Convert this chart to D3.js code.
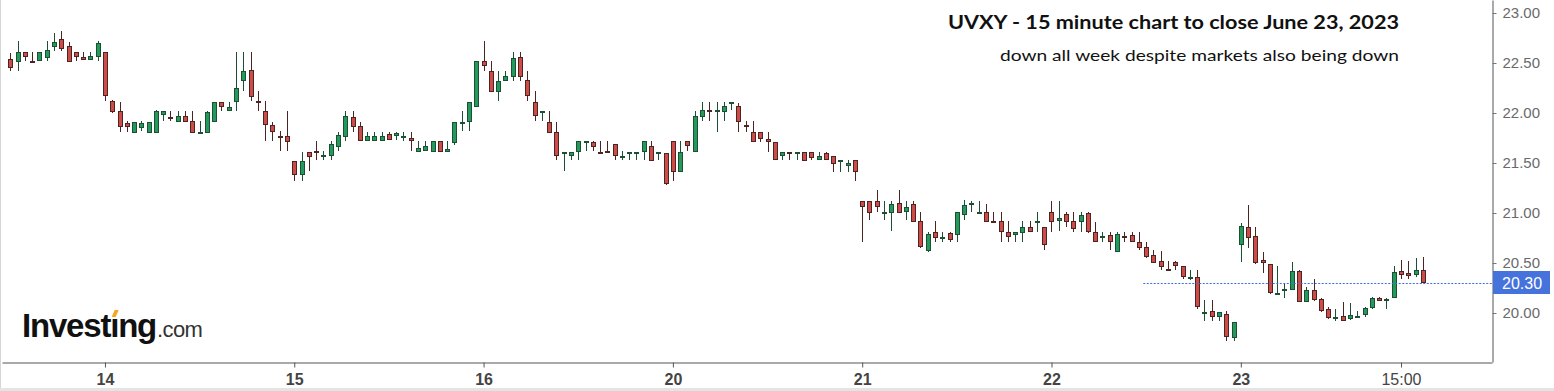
<!DOCTYPE html>
<html lang="en">
<head>
<meta charset="utf-8">
<title>UVXY 15 minute chart</title>
<script src="https://cdn.jsdelivr.net/npm/d3@7"></script>
<style>
  body { margin: 0; background: #fff; overflow: hidden; }
  .axis text { font-family: "Liberation Sans", Arial, sans-serif; }
</style>
</head>
<body>
<script>
// 15 minute bars, June 13 (afternoon) to June 23 close
var open = [
  22.54,22.51,22.61,22.52,22.52,22.55,22.66,22.74,22.67,22.61,22.56,22.53,22.56,
  22.61,22.12,22.02,21.90,21.80,21.85,21.80,21.80,21.98,21.96,21.91,21.97,21.92,21.80,21.80,21.91,22.11,22.02,22.11,22.32,22.43,22.12,22.02,21.88,21.77,21.77,
  21.52,21.38,21.61,21.62,21.57,21.57,21.66,21.76,21.96,21.87,21.72,21.72,21.72,21.79,21.77,21.76,21.75,21.61,21.62,21.61,21.72,21.61,21.70,21.90,21.91,22.06,
  22.52,22.42,22.21,22.32,22.36,22.56,22.33,22.11,22.00,21.91,21.81,21.60,21.57,21.61,21.70,21.71,21.61,21.62,21.69,21.56,21.60,21.60,21.61,21.67,21.60,21.60,
  21.72,21.41,21.72,21.61,21.96,22.03,22.02,22.01,22.10,22.07,21.88,21.81,21.81,21.74,21.71,21.57,21.605,21.60,21.61,21.61,21.53,21.60,21.57,21.51,21.47,21.53,
  21.12,21.12,21.12,21.01,21.00,21.10,21.01,21.09,20.92,20.62,20.81,20.76,20.80,20.78,20.98,21.09,21.01,21.01,20.92,20.92,20.81,20.78,20.80,20.86,20.92,20.86,
  21.01,20.92,20.99,20.92,20.91,21.00,20.81,20.76,20.78,20.61,20.77,20.78,20.71,20.66,20.58,20.52,20.44,20.51,20.47,20.355,20.36,20.01,20.02,19.96,19.99,19.75,
  20.68,20.86,20.77,20.53,20.49,20.19,20.235,20.23,20.42,20.11,20.23,20.14,20.04,19.96,19.97,19.94,19.965,19.98,20.05,20.15,20.13,20.15,20.42,20.40,20.38,20.43
];
var high = [
  22.60,22.72,22.61,22.61,22.61,22.72,22.80,22.82,22.71,22.61,22.61,22.61,22.72,
  22.61,22.13,22.11,21.92,21.91,21.92,21.91,22.03,22.02,22.02,22.02,22.02,22.02,21.92,22.02,22.11,22.11,22.11,22.61,22.61,22.61,22.22,22.12,21.91,21.82,22.02,
  21.52,21.61,21.61,21.72,21.62,21.72,21.81,22.02,22.02,21.91,21.81,21.81,21.81,21.81,21.81,21.81,21.81,21.72,21.72,21.72,21.72,21.72,21.91,22.02,22.11,22.52,
  22.72,22.52,22.42,22.42,22.61,22.61,22.42,22.22,22.02,22.02,21.91,21.61,21.61,21.72,21.72,21.72,21.72,21.72,21.69,21.62,21.61,21.61,21.72,21.72,21.61,21.60,
  21.72,21.72,21.72,22.02,22.11,22.11,22.11,22.11,22.11,22.10,21.92,21.92,21.81,21.81,21.71,21.61,21.61,21.61,21.61,21.61,21.61,21.61,21.57,21.53,21.53,21.53,
  21.12,21.12,21.23,21.12,21.12,21.23,21.12,21.12,21.01,20.81,20.92,20.81,20.81,21.01,21.13,21.12,21.12,21.09,21.01,21.01,20.92,20.81,20.92,20.92,21.01,20.86,
  21.12,21.12,21.01,21.01,21.01,21.01,20.91,20.81,20.81,20.81,20.81,20.81,20.81,20.71,20.63,20.62,20.52,20.52,20.47,20.43,20.43,20.13,20.13,20.01,20.02,19.91,
  20.90,21.08,20.86,20.61,20.49,20.47,20.30,20.51,20.43,20.26,20.34,20.15,20.06,20.04,20.11,20.10,20.02,20.06,20.16,20.16,20.15,20.47,20.53,20.52,20.55,20.56
];
var low = [
  22.42,22.42,22.52,22.51,22.52,22.52,22.62,22.62,22.51,22.52,22.53,22.53,22.52,
  22.12,22.00,21.81,21.81,21.80,21.82,21.80,21.80,21.92,21.92,21.91,21.91,21.80,21.80,21.80,21.91,22.02,22.02,22.02,22.22,22.12,22.02,21.72,21.72,21.62,21.62,
  21.32,21.32,21.42,21.53,21.53,21.53,21.62,21.72,21.81,21.72,21.72,21.72,21.72,21.73,21.73,21.72,21.62,21.61,21.62,21.61,21.61,21.61,21.68,21.82,21.82,22.06,
  22.42,22.21,22.12,22.32,22.32,22.32,22.12,21.92,21.92,21.80,21.53,21.42,21.53,21.53,21.62,21.62,21.60,21.61,21.53,21.53,21.53,21.53,21.53,21.52,21.53,21.28,
  21.32,21.41,21.62,21.61,21.92,21.92,21.81,21.92,22.03,21.81,21.81,21.71,21.71,21.61,21.53,21.53,21.53,21.53,21.52,21.53,21.53,21.53,21.41,21.41,21.41,21.32,
  20.71,20.93,21.01,20.93,20.82,21.00,20.93,20.91,20.65,20.61,20.71,20.71,20.71,20.71,20.93,21.01,21.01,20.91,20.91,20.71,20.71,20.71,20.71,20.81,20.81,20.63,
  20.81,20.82,20.86,20.81,20.81,20.80,20.71,20.71,20.63,20.61,20.71,20.71,20.63,20.55,20.50,20.43,20.43,20.43,20.34,20.33,20.04,19.92,19.92,19.92,19.72,19.72,
  20.51,20.65,20.49,20.40,20.19,20.19,20.15,20.23,20.11,20.11,20.12,20.01,19.94,19.92,19.92,19.93,19.95,19.96,20.04,20.12,20.04,20.15,20.34,20.34,20.36,20.30
];
var close = [
  22.45,22.61,22.56,22.51,22.61,22.63,22.71,22.64,22.51,22.56,22.53,22.57,22.70,
  22.17,22.01,21.86,21.86,21.91,21.90,21.91,22.02,22.02,21.95,21.97,21.91,21.80,21.81,22.01,22.11,22.06,22.06,22.25,22.42,22.16,22.11,21.88,21.81,21.76,21.71,
  21.38,21.52,21.56,21.61,21.58,21.69,21.78,21.97,21.86,21.72,21.77,21.77,21.77,21.73,21.80,21.77,21.72,21.65,21.67,21.72,21.61,21.64,21.91,21.91,22.11,22.52,
  22.47,22.21,22.32,22.37,22.55,22.36,22.17,21.97,22.02,21.80,21.57,21.61,21.61,21.72,21.72,21.66,21.60,21.61,21.57,21.57,21.61,21.61,21.72,21.52,21.61,21.29,
  21.41,21.61,21.67,21.97,22.03,22.02,22.03,22.07,22.11,21.91,21.87,21.71,21.74,21.71,21.53,21.61,21.60,21.61,21.52,21.55,21.57,21.53,21.49,21.53,21.50,21.41,
  21.06,21.00,21.06,21.015,21.09,21.00,21.06,20.91,20.66,20.79,20.75,20.765,20.73,21.01,21.08,21.10,21.015,20.91,20.91,20.81,20.76,20.81,20.86,20.81,20.925,20.68,
  20.91,20.95,20.91,20.84,20.98,20.81,20.71,20.77,20.71,20.79,20.765,20.71,20.65,20.56,20.50,20.46,20.43,20.47,20.36,20.36,20.06,20.015,19.96,20.01,19.76,19.91,
  20.87,20.75,20.50,20.50,20.20,20.20,20.24,20.42,20.11,20.23,20.13,20.02,19.95,19.965,19.92,19.98,19.97,20.05,20.15,20.12,20.14,20.41,20.38,20.37,20.43,20.30
];

// first bar of each session and its axis label
var dayStart = [13, 39, 65, 91, 117, 143, 169, 191];
var dayLabels = ["14", "15", "16", "20", "21", "22", "23", "15:00"];
var yTicks = [20.00, 20.50, 21.00, 21.50, 22.00, 22.50, 23.00];
var lastPrice = 20.30;

var title = "UVXY - 15 minute chart to close June 23, 2023";
var subtitle = "down all week despite markets also being down";

var w = 1554, h = 391;
var plotLeft = 2, plotRight = 1492, plotBottom = 362;

var svg = d3.select("body").append("svg")
    .attr("width", w)
    .attr("height", h);

// scales: bar index -> x, price -> y
var xScale = d3.scaleLinear()
    .domain([-1.14, 203.5])
    .range([plotLeft, plotRight]);
var yScale = d3.scaleLinear()
    .domain([19.51, 23.13])
    .range([plotBottom, 0]);

// light frame
svg.append("line")
   .attr("x1", 0.5).attr("x2", 0.5).attr("y1", 0).attr("y2", h)
   .attr("stroke", "#d6d6d6");
svg.append("rect")
   .attr("x", 0).attr("y", h - 3).attr("width", w).attr("height", 3)
   .attr("fill", "#e4e4e4");

// title
svg.append("text")
   .attr("x", 1399).attr("y", 29)
   .attr("text-anchor", "end")
   .attr("font-family", "Lato, 'Open Sans', sans-serif")
   .attr("font-weight", "bold")
   .attr("font-size", "19px")
   .attr("fill", "#111")
   .attr("textLength", 451)
   .attr("lengthAdjust", "spacingAndGlyphs")
   .text(title);
svg.append("text")
   .attr("x", 1399).attr("y", 61)
   .attr("text-anchor", "end")
   .attr("font-family", "Lato, 'Open Sans', sans-serif")
   .attr("font-size", "16px")
   .attr("fill", "#111")
   .attr("textLength", 399)
   .attr("lengthAdjust", "spacingAndGlyphs")
   .text(subtitle);

// Investing.com logo, one text with two spans
var logo = svg.append("text")
    .attr("x", 22).attr("y", 337)
    .attr("font-family", "'Liberation Sans', Arial, sans-serif")
    .attr("fill", "#111");
logo.append("tspan")
    .attr("font-weight", "bold")
    .attr("font-size", "33px")
    .attr("letter-spacing", "-1.2px")
    .text("Invest\u0131ng");
logo.append("tspan")
    .attr("font-size", "22px")
    .attr("letter-spacing", "-0.6px")
    .attr("fill", "#333")
    .attr("dx", 1)
    .text(".com");
var dotX = logo.node().getStartPositionOfChar(6).x;
svg.append("path")
   .attr("d", "M" + (dotX + 1.5) + ",317 l3,-7 l4,0 l-3,7 z")
   .attr("fill", "#f5a623");

// candles
var bars = d3.range(open.length);
var upFill = "#23995c", downFill = "#cf4b45";
var upLine = "#1d4f35", downLine = "#4b2523";

var candles = svg.append("g").attr("shape-rendering", "crispEdges");
candles.selectAll("line")
   .data(bars)
   .enter()
   .append("line")
   .attr("x1", function(i){ return Math.round(xScale(i)) + 0.5; })
   .attr("x2", function(i){ return Math.round(xScale(i)) + 0.5; })
   .attr("y1", function(i){ return yScale(high[i]); })
   .attr("y2", function(i){ return yScale(low[i]); })
   .attr("stroke", function(i){ return close[i] >= open[i] ? upLine : downLine; });
candles.selectAll("rect")
   .data(bars)
   .enter()
   .append("rect")
   .attr("x", function(i){ return Math.round(xScale(i)) - 1.5; })
   .attr("y", function(i){ return Math.round(yScale(Math.max(open[i], close[i]))) + 0.5; })
   .attr("width", 4)
   .attr("height", function(i){
       return Math.max(1, Math.round(yScale(Math.min(open[i], close[i]))) - Math.round(yScale(Math.max(open[i], close[i]))) - 1);
   })
   .attr("fill", function(i){ return close[i] >= open[i] ? upFill : downFill; })
   .attr("stroke", function(i){ return close[i] >= open[i] ? upLine : downLine; });

// last price line
svg.append("line")
   .attr("x1", xScale(155.6)).attr("x2", plotRight)
   .attr("y1", Math.round(yScale(lastPrice)) + 0.5)
   .attr("y2", Math.round(yScale(lastPrice)) + 0.5)
   .attr("stroke", "#3d6ee0")
   .attr("stroke-dasharray", "2,1.5");

// x axis
var xAxis = d3.axisBottom(xScale)
    .tickValues(dayStart)
    .tickFormat(function(d, i){ return dayLabels[i]; })
    .tickSize(5)
    .tickSizeOuter(0);
var gx = svg.append("g")
    .attr("class", "axis")
    .attr("transform", "translate(0," + (plotBottom + 0.5) + ")")
    .call(xAxis);
gx.select(".domain").attr("stroke", "#555");
gx.selectAll(".tick line").attr("stroke", "#555");
gx.selectAll(".tick text")
  .attr("y", 22).attr("dy", 0)
  .attr("font-size", "16px")
  .attr("font-weight", function(d, i){ return i < dayLabels.length - 1 ? "bold" : "normal"; })
  .attr("fill", "#444");

// y axis on the right
var yAxis = d3.axisRight(yScale)
    .tickValues(yTicks)
    .tickFormat(d3.format(".2f"))
    .tickSize(4)
    .tickSizeOuter(0);
var gy = svg.append("g")
    .attr("class", "axis")
    .attr("transform", "translate(" + (plotRight + 0.5) + ",0)")
    .call(yAxis);
gy.select(".domain").attr("stroke", "#555");
gy.selectAll(".tick line").attr("stroke", "#777");
gy.selectAll(".tick text")
  .attr("x", 10)
  .attr("font-size", "15px")
  .attr("fill", "#6a6a6a");

// last price tag
var tagY = yScale(lastPrice);
svg.append("rect")
   .attr("x", plotRight + 1).attr("y", tagY - 12)
   .attr("width", w - plotRight - 5).attr("height", 23)
   .attr("fill", "#4672dc");
svg.append("text")
   .attr("x", plotRight + 10).attr("y", tagY + 6)
   .attr("font-family", "'Liberation Sans', Arial, sans-serif")
   .attr("font-size", "16px")
   .attr("fill", "#fff")
   .text(d3.format(".2f")(lastPrice));
</script>
</body>
</html>
